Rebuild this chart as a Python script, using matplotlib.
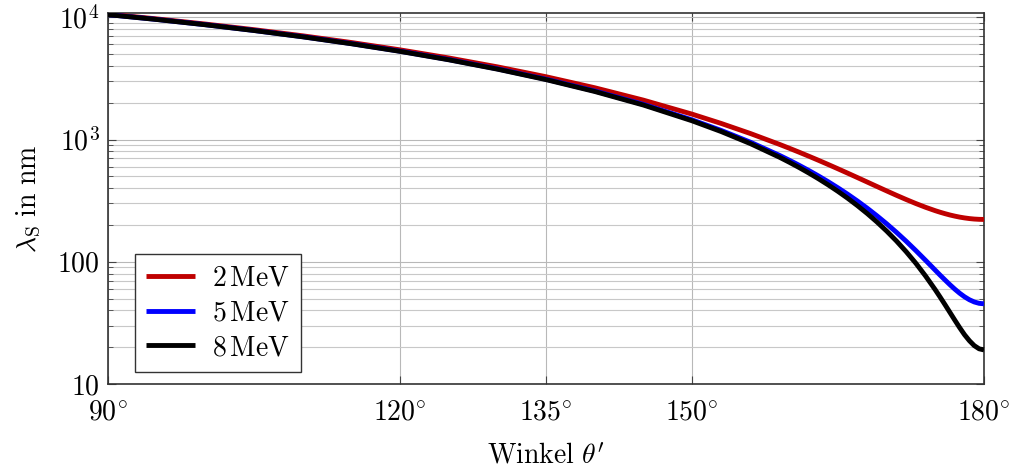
import matplotlib
matplotlib.use("Agg")
import matplotlib.pyplot as plt
from matplotlib.ticker import FixedLocator, FixedFormatter, LogLocator, NullFormatter

plt.rcParams["mathtext.fontset"] = "cm"
plt.rcParams["font.family"] = ["serif"]
plt.rcParams["font.serif"] = ["cmr10", "DejaVu Serif"]
plt.rcParams["axes.formatter.use_mathtext"] = True

# Scattering angle in degrees
angle = [90, 95, 100, 105, 110, 115, 120, 125, 130, 135, 140, 145, 150,
         153, 156, 159, 160, 161, 162, 163, 164, 165, 166, 167, 168, 169,
         170, 171, 172, 173, 174, 175, 175.5, 176, 176.5, 177, 177.5, 178,
         178.5, 179, 179.5, 180]

# Scattered wavelength in nm for three electron energies
lam_2mev = [10611, 9706, 8807, 7922, 7058, 6220, 5417, 4652, 3933, 3265,
            2653, 2101, 1614, 1354, 1120, 912.1, 848.6, 788.1, 730.5, 676.0,
            624.5, 576.0, 530.6, 488.3, 449.1, 412.9, 379.9, 349.9, 323.2,
            299.5, 279.0, 261.6, 254.1, 247.4, 241.4, 236.3, 231.9, 228.4,
            225.6, 223.6, 222.4, 222.0]
lam_5mev = [10523, 9610, 8703, 7811, 6939, 6095, 5284, 4513, 3788, 3114,
            2497, 1940, 1449, 1187, 951.1, 741.2, 677.2, 616.1, 558.1, 503.1,
            451.2, 402.3, 356.6, 313.9, 274.3, 237.8, 204.5, 174.3, 147.3,
            123.4, 102.7, 85.2, 77.6, 70.9, 64.9, 59.7, 55.3, 51.7,
            48.9, 46.9, 45.7, 45.3]
lam_8mev = [10510, 9595, 8688, 7794, 6922, 6076, 5264, 4492, 3766, 3092,
            2473, 1916, 1424, 1162, 925.9, 715.7, 651.6, 590.5, 532.4, 477.3,
            425.3, 376.4, 330.6, 287.8, 248.2, 211.7, 178.3, 148.1, 121.0,
            97.2, 76.4, 58.9, 51.3, 44.5, 38.5, 33.3, 28.9, 25.3,
            22.6, 20.6, 19.4, 19.0]

series_labels = [r"$2\,\mathrm{MeV}$", r"$5\,\mathrm{MeV}$", r"$8\,\mathrm{MeV}$"]
series_colors = ["#bf0000", "#0000ff", "#000000"]

x_ticks = [90, 120, 135, 150, 180]
x_ticklabels = [r"$90^{\circ}$", r"$120^{\circ}$", r"$135^{\circ}$",
                r"$150^{\circ}$", r"$180^{\circ}$"]
y_ticks = [10, 100, 1000, 10000]
y_ticklabels = [r"$10$", r"$100$", r"$10^{3}$", r"$10^{4}$"]

FS = 20

fig = plt.figure(figsize=(10.12, 4.70), dpi=100)
ax = fig.add_axes([108 / 1012, 86 / 470, 876 / 1012, (384 - 12.7) / 470])

for ys, lab, col in zip([lam_2mev, lam_5mev, lam_8mev], series_labels, series_colors):
    ax.plot(angle, ys, color=col, lw=3.5, label=lab, solid_capstyle="butt",
            solid_joinstyle="round", zorder=3)

ax.set_yscale("log")
ax.set_xlim(90, 180)
ax.set_ylim(10, 10906)

ax.xaxis.set_major_locator(FixedLocator(x_ticks))
ax.xaxis.set_major_formatter(FixedFormatter(x_ticklabels))
ax.yaxis.set_major_locator(FixedLocator(y_ticks))
ax.yaxis.set_major_formatter(FixedFormatter(y_ticklabels))
ax.yaxis.set_minor_locator(LogLocator(base=10, subs=range(2, 10)))
ax.yaxis.set_minor_formatter(NullFormatter())

ax.grid(True, which="major", color="#b8b8b8", lw=0.8)
ax.grid(True, which="minor", axis="y", color="#c8c8c8", lw=0.8)
ax.set_axisbelow(True)

ax.tick_params(which="both", direction="in", top=True, right=True,
               color="#444444", labelsize=FS)
ax.tick_params(which="major", length=6, width=0.8)
ax.tick_params(which="minor", length=3.5, width=0.6)
ax.tick_params(axis="x", pad=11)
ax.tick_params(axis="y", pad=6)

for sp in ax.spines.values():
    sp.set_color("#333333")
    sp.set_linewidth(1.2)

ax.set_xlabel(r"$\mathrm{Winkel}\ \theta^{\prime}$", fontsize=FS, labelpad=13)
ax.set_ylabel(r"$\lambda_{\mathrm{S}}\ \mathrm{in\ nm}$", fontsize=FS, labelpad=10)

leg = ax.legend(loc="lower left", bbox_to_anchor=(0.031, 0.032), fontsize=FS,
                frameon=True, fancybox=False, edgecolor="#333333",
                handlelength=1.75, handletextpad=0.6, borderpad=0.4,
                labelspacing=0.3, borderaxespad=0.0)
leg.get_frame().set_linewidth(1.0)
leg.get_frame().set_alpha(1.0)

fig.savefig("out.png", dpi=100)
